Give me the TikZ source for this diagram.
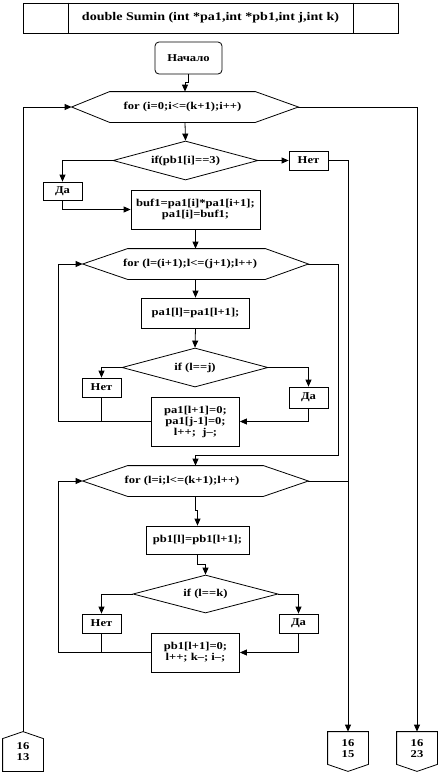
\documentclass[tikz,border=0pt]{standalone}
\usepackage{fontspec}
\setmainfont{Liberation Serif}[FakeStretch=1.2]
\usetikzlibrary{shapes.geometric,arrows.meta}
\begin{document}
\begin{tikzpicture}[x=1pt,y=-1pt,
  line width=0.8pt,
  >={Triangle[length=7pt,width=6pt]},
  font=\fontsize{10.5}{11}\selectfont\bfseries,
  box/.style={draw,rectangle,inner sep=0pt,align=center},
  dia/.style={draw,diamond,aspect=3.7,inner sep=0pt},
  frame/.style={rectangle,inner sep=0pt,align=center},
  txt/.style={inner sep=0pt,align=center}]
\useasboundingbox (0,0) rectangle (439,774);

% header
\node[box,minimum width=375pt,minimum height=30pt,font=\fontsize{11.7}{13}\selectfont\bfseries] (hdr) at (210.5,18) {double Sumin (int *pa1,int *pb1,int j,int k)};
\draw ([xshift=46pt]hdr.north west) -- ([xshift=46pt]hdr.south west);
\draw ([xshift=-45pt]hdr.north east) -- ([xshift=-45pt]hdr.south east);

% start
\node[box,rounded corners=4pt,minimum width=67pt,minimum height=32pt] (start) at (188.5,58) {Начало};

% hexagon 1
\node[frame,minimum width=226pt,minimum height=30pt] (h1) at (185,107) {};
\draw (h1.west) -- ([xshift=38pt]h1.north west) -- ([xshift=-43pt]h1.north east) -- (h1.east)
  -- ([xshift=-43pt]h1.south east) -- ([xshift=38pt]h1.south west) -- cycle;
\node[txt] (t1) at (182.5,107) {for (i=0;i<=(k+1);i++)};

% diamond 1
\node[dia,minimum width=145pt,minimum height=39pt] (d1) at (185.5,160.5) {if(pb1[i]==3)};
\node[box,minimum width=39pt,minimum height=19pt] (n1) at (308.5,160.5) {Нет};
\node[box,minimum width=39pt,minimum height=18pt] (y1) at (62.5,191) {Да};
\node[box,minimum width=129pt,minimum height=39pt] (buf) at (195.5,209.5) {buf1=pa1[i]*pa1[i+1];\\pa1[i]=buf1;};

% hexagon 2
\node[frame,minimum width=225pt,minimum height=30pt] (h2) at (195.5,264) {};
\draw (h2.west) -- ([xshift=45pt]h2.north west) -- ([xshift=-43pt]h2.north east) -- (h2.east)
  -- ([xshift=-43pt]h2.south east) -- ([xshift=45pt]h2.south west) -- cycle;
\node[txt] (t2) at (190,264) {for (l=(i+1);l<=(j+1);l++)};

\node[box,minimum width=108pt,minimum height=30pt] (p1) at (195.5,313) {pa1[l]=pa1[l+1];};
\node[dia,minimum width=146pt,minimum height=39pt] (d2) at (195,367.5) {if (l==j)};
\node[box,minimum width=39pt,minimum height=19pt] (n2) at (101.5,387.5) {Нет};
\node[box,minimum width=39pt,minimum height=21pt] (y2) at (308.5,397.5) {Да};
\node[box,minimum width=88pt,minimum height=49pt] (q1) at (195.5,421.5) {pa1[l+1]=0;\\pa1[j-1]=0;\\l++;\ \ j--;};

% hexagon 3
\node[frame,minimum width=225pt,minimum height=30pt] (h3) at (195.5,481) {};
\draw (h3.west) -- ([xshift=45pt]h3.north west) -- ([xshift=-45pt]h3.north east) -- (h3.east)
  -- ([xshift=-45pt]h3.south east) -- ([xshift=45pt]h3.south west) -- cycle;
\node[txt] (t3) at (182,481) {for (l=i;l<=(k+1);l++)};

\node[box,minimum width=103pt,minimum height=28pt] (p2) at (197.5,540) {pb1[l]=pb1[l+1];};
\node[dia,minimum width=145pt,minimum height=38pt] (d3) at (205.5,594) {if (l==k)};
\node[box,minimum width=39pt,minimum height=19pt] (n3) at (101.5,623.5) {Нет};
\node[box,minimum width=39pt,minimum height=19pt] (y3) at (298.5,623.5) {Да};
\node[box,minimum width=88pt,minimum height=39pt] (q2) at (195.5,652.5) {pb1[l+1]=0;\\l++; k--; i--;};

% off-page connectors
\node[frame,minimum width=40pt,minimum height=39pt] (c1) at (23,751.5) {};
\draw (c1.north) -- ([yshift=-7pt]c1.north east) -- (c1.south east) -- (c1.south west) -- ([yshift=-7pt]c1.north west) -- cycle;
\node[txt] at (23,752) {16\\13};
\node[frame,minimum width=40pt,minimum height=39pt] (c2) at (348,751.5) {};
\draw (c2.north west) -- (c2.north east) -- ([yshift=7pt]c2.south east) -- (c2.south) -- ([yshift=7pt]c2.south west) -- cycle;
\node[txt] at (348,749) {16\\15};
\node[frame,minimum width=40pt,minimum height=39pt] (c3) at (417,751.5) {};
\draw (c3.north west) -- (c3.north east) -- ([yshift=7pt]c3.south east) -- (c3.south) -- ([yshift=7pt]c3.south west) -- cycle;
\node[txt] at (417,749) {16\\23};

% coordinates
\coordinate (L2) at (58,421.5);
\coordinate (L3) at (58,652.5);
\coordinate (R2) at (338,455);

% connectors
\draw[->] (start.south) -- ++(0,8) -| (h1.north);
\draw[->] (c1.north) |- (h1.west);
\draw[->] (h1.east) -| (c3.north);
\draw[->] (h1.south) -- (d1.north);
\draw[->] (d1.east) -- (n1.west);
\draw[->] (n1.east) -| (c2.north);
\draw[->] (d1.west) -| (y1.north);
\draw[->] (y1.south) |- (buf.west);
\draw[->] (buf.south) -- (h2.north);
\draw[->] (h2.south) -- (p1.north);
\draw[->] (p1.south) -- (d2.north);
\draw[->] (d2.west) -| (n2.north);
\draw[->] (d2.east) -| (y2.north);
\draw[->] (y2.south) |- (q1.east);
\draw (n2.south) -- (n2.south |- q1.west);
\draw[->] (q1.west) -- (L2) |- (h2.west);
\draw[->] (h2.east) -| (R2) -| (h3.north);
\draw (h3.east) -- (h3.east -| c2.north);
\draw[->] (h3.south) -- ++(0,14) -| (p2.north);
\draw[->] (p2.south) -- ++(0,10) -| (d3.north);
\draw[->] (d3.west) -| (n3.north);
\draw[->] (d3.east) -| (y3.north);
\draw[->] (y3.south) |- (q2.east);
\draw (n3.south) -- (n3.south |- q2.west);
\draw[->] (q2.west) -- (L3) |- (h3.west);
\end{tikzpicture}
\end{document}
